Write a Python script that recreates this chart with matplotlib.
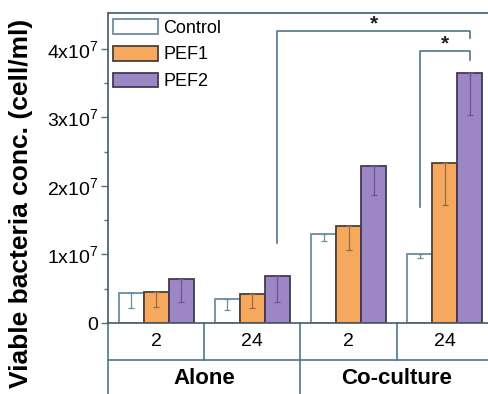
import numpy as np
import matplotlib
matplotlib.use("Agg")
import matplotlib.pyplot as plt

plt.rcParams["font.family"] = ["Liberation Sans", "DejaVu Sans"]
plt.rcParams["mathtext.fontset"] = "custom"
plt.rcParams["mathtext.rm"] = "Liberation Sans"

# data (cell/ml)
groups = ["2", "24", "2", "24"]
conditions = ["Alone", "Co-culture"]
series = ["Control", "PEF1", "PEF2"]
control = [0.44e7, 0.35e7, 1.30e7, 1.00e7]
pef1 = [0.45e7, 0.42e7, 1.42e7, 2.33e7]
pef2 = [0.64e7, 0.69e7, 2.29e7, 3.65e7]
control_err = [0.22e7, 0.16e7, 0.10e7, 0.05e7]
pef1_err = [0.22e7, 0.20e7, 0.36e7, 0.61e7]
pef2_err = [0.34e7, 0.38e7, 0.42e7, 0.61e7]

face = ["white", "#f6a85e", "#9d86c4"]
edge = ["#6a8fa3", "#4a4038", "#3f3a55"]
ecol = ["#6a8fa3", "#9a6a40", "#6a5590"]
line_col = "#4f7489"

fig = plt.figure(figsize=(4.89, 3.94), dpi=100)
ax = fig.add_axes([108 / 489, 71 / 394, 1 - 108 / 489, 310 / 394])

x = np.arange(len(groups))
w = 0.26
vals = [control, pef1, pef2]
errs = [control_err, pef1_err, pef2_err]
for i, (v, e) in enumerate(zip(vals, errs)):
    xs = x + (i - 1) * w
    ax.bar(xs, v, width=w, color=face[i], edgecolor=edge[i], linewidth=1.3,
           label=series[i], zorder=2)
    ax.errorbar(xs, v, yerr=[e, np.zeros(len(e))], fmt="none", ecolor=ecol[i],
                elinewidth=0.9, capsize=2.5, capthick=0.9, zorder=3)

ax.set_xlim(-0.5, 3.46)
ax.set_ylim(0, 4.52e7)
ax.set_yticks([0, 1e7, 2e7, 3e7, 4e7])
ax.set_yticklabels(["0", r"$\mathregular{1x10^7}$", r"$\mathregular{2x10^7}$",
                    r"$\mathregular{3x10^7}$", r"$\mathregular{4x10^7}$"], fontsize=14)
ax.set_yticks(np.arange(0.5e7, 4.5e7, 1e7), minor=True)
ax.tick_params(axis="y", which="major", length=5, width=1, color=line_col, pad=2)
ax.tick_params(axis="y", which="minor", length=3, width=1, color=line_col)
ax.set_xticks([])
ax.spines["right"].set_visible(False)
for s in ["left", "top", "bottom"]:
    ax.spines[s].set_color("#4a5a66")
    ax.spines[s].set_linewidth(1.2)
ax.set_ylabel("Viable bacteria conc. (cell/ml)", fontsize=19, fontweight="bold")
ax.yaxis.set_label_coords(-0.198, 0.385)

# significance brackets
def bracket(x0, y0, x1, y1, ytop):
    ax.plot([x0, x0, x1, x1], [y0, ytop, ytop, y1], color=line_col, lw=1.2,
            zorder=4, clip_on=False)
    ax.text((x0 + x1) / 2, ytop + 0.1e7, "*", ha="center", va="center",
            fontsize=15, fontweight="bold", color="#222222")

bracket(1 + w, 1.17e7, 3 + w, 4.15e7, 4.26e7)
bracket(3 - w, 1.69e7, 3 + w, 3.84e7, 3.97e7)

leg = ax.legend(loc="upper left", frameon=False, fontsize=13, handlelength=2.5,
                handleheight=0.9, labelspacing=0.5, handletextpad=0.3,
                borderpad=0, borderaxespad=0,
                bbox_to_anchor=(5 / 381, 1 - 6 / 310))

# category table below the axis
tr = ax.get_xaxis_transform()
r1 = -37 / 310
r2 = -0.35
kw = dict(transform=tr, color=line_col, lw=1.2, clip_on=False)
ax.plot([-0.5, 3.5], [r1, r1], **kw)
ax.plot([-0.5, -0.5], [0, r2], **kw)
ax.plot([1.5, 1.5], [0, r2], **kw)
for xv in [0.5, 2.5]:
    ax.plot([xv, xv], [0, r1], **kw)
for xi, g in zip(x, groups):
    ax.text(xi, r1 / 2, g, transform=tr, ha="center", va="center", fontsize=14)
for xi, c in zip([0.5, 2.5], conditions):
    ax.text(xi, -0.178, c, transform=tr, ha="center", va="center",
            fontsize=16, fontweight="bold")

fig.savefig("out.png", dpi=100)
